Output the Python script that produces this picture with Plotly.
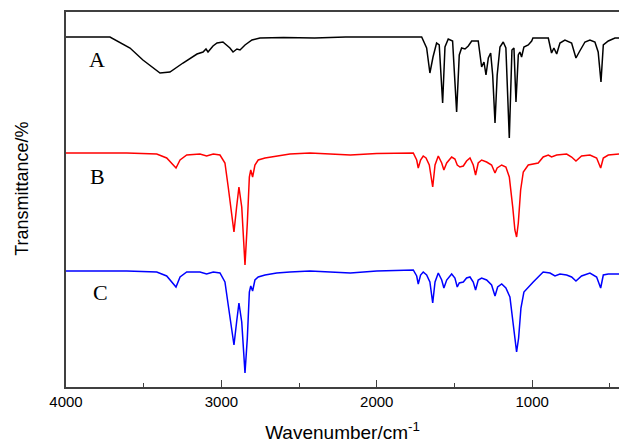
import plotly.graph_objects as go

# Wavenumber (cm^-1) and plotted transmittance (offset arbitrary units)
wn_A = [4000, 3717, 3588, 3505, 3395, 3331, 3247, 3157, 3118, 3099, 3086, 3054, 3028, 2990, 2945, 2925,
        2900, 2880, 2848, 2803, 2752, 2600, 2400, 2200, 2000, 1800, 1711, 1679, 1658, 1638, 1615, 1598,
        1576, 1561, 1540, 1512, 1486, 1469, 1454, 1432, 1411, 1389, 1347, 1325, 1310, 1297, 1282, 1267,
        1254, 1239, 1225, 1207, 1186, 1169, 1147, 1130, 1117, 1104, 1089, 1079, 1068, 1053, 1025, 1003,
        995, 896, 875, 860, 842, 821, 789, 746, 718, 697, 660, 628, 596, 575, 557, 542, 510, 467, 441]
T_A = [350, 350, 339, 327, 314, 315, 324, 333, 335, 338, 335, 341, 344, 345, 339, 335,
       338, 337, 342, 347, 349, 349.5, 349, 350, 350, 350, 350, 339, 314, 330, 344, 342,
       284, 340, 348, 346, 275, 332, 339, 338, 341, 346, 346, 320, 325, 312, 329, 334,
       312, 264, 312, 340, 345, 339, 249, 337, 339, 285, 332, 335, 330, 340, 342, 346,
       349, 349, 334, 339, 333, 344, 347, 344, 329, 335, 345, 347, 345, 335, 305, 342, 346, 349, 349]

wn_B = [4000, 3609, 3416, 3352, 3292, 3266, 3223, 3138, 3095, 3052, 3009, 2977, 2956, 2919, 2902, 2887,
        2869, 2848, 2833, 2820, 2811, 2799, 2784, 2763, 2719, 2644, 2559, 2430, 2170, 2000, 1765, 1743,
        1733, 1718, 1701, 1683, 1662, 1640, 1625, 1604, 1582, 1568, 1550, 1518, 1497, 1482, 1465, 1443,
        1422, 1400, 1379, 1364, 1347, 1325, 1293, 1261, 1239, 1225, 1196, 1169, 1147, 1125, 1111, 1100,
        1089, 1074, 1057, 1025, 993, 961, 929, 896, 875, 842, 778, 746, 718, 682, 628, 585, 559, 542, 510, 441]
T_B = [234, 234, 233, 229, 219, 227, 232, 233, 231, 233, 232, 224, 200, 155, 180, 200,
       180, 122, 164, 210, 217, 210, 222, 227, 229, 231, 233, 234, 232, 233.5, 234, 227,
       219, 227, 231, 229, 222, 200, 222, 231, 224, 217, 224, 230, 228, 222, 220, 221,
       226, 229, 222, 212, 224, 227, 225, 222, 214, 219, 222, 220, 210, 180, 157, 150,
       164, 197, 215, 222, 223, 224, 230, 232, 230, 232, 233, 230, 226, 231, 232, 229, 219, 229, 232, 233]

wn_C = [4000, 3609, 3416, 3352, 3292, 3266, 3223, 3138, 3095, 3052, 3009, 2977, 2956, 2919, 2902, 2887,
        2869, 2848, 2833, 2820, 2811, 2799, 2784, 2763, 2719, 2644, 2559, 2430, 2170, 2000, 1765, 1743,
        1733, 1718, 1701, 1679, 1658, 1640, 1625, 1604, 1582, 1568, 1550, 1518, 1497, 1482, 1469, 1443,
        1422, 1400, 1379, 1364, 1347, 1325, 1293, 1261, 1239, 1222, 1196, 1169, 1143, 1122, 1109, 1100,
        1087, 1072, 1053, 1025, 993, 961, 929, 885, 853, 821, 778, 746, 718, 682, 628, 585, 559, 542, 510, 441]
T_C = [116, 116, 115, 111, 100, 110, 115, 115, 113, 115, 114, 105, 82, 42, 65, 84,
       65, 14, 49, 95, 101, 96, 107, 110, 112, 114, 115, 116, 114, 116, 117, 111,
       103, 112, 115, 112, 105, 84, 105, 114, 107, 99, 107, 113, 109, 100, 104, 105,
       109, 110, 105, 97, 107, 109, 107, 102, 91, 100, 103, 99, 90, 62, 42, 35,
       49, 79, 95, 100, 105, 110, 115, 114, 111, 113, 112, 110, 106, 111, 114, 110, 99, 112, 113, 113]

labels = ["A", "B", "C"]
label_x = [3800, 3800, 3775]
label_y = [328, 211, 95]

fig = go.Figure()
for wn, T, col in [(wn_A, T_A, "black"), (wn_B, T_B, "red"), (wn_C, T_C, "blue")]:
    fig.add_trace(go.Scatter(x=wn, y=T, mode="lines", line=dict(color=col, width=1.5),
                             showlegend=False))

for t, lx, ly in zip(labels, label_x, label_y):
    fig.add_annotation(x=lx, y=ly, text=t, showarrow=False, xanchor="center", yanchor="middle",
                       font=dict(family="Liberation Serif, Times New Roman, serif", size=22, color="black"))

# y-axis title placed as a rotated annotation (sits slightly above the axis centre)
fig.add_annotation(xref="paper", yref="paper", x=-0.081, y=0.529, text="Transmittance/%",
                   textangle=-90, showarrow=False, xanchor="center", yanchor="middle",
                   font=dict(size=18, color="black"))

fig.update_layout(
    width=619, height=443,
    margin=dict(l=66, r=0, t=12, b=56),
    paper_bgcolor="white", plot_bgcolor="white",
    font=dict(family="Liberation Sans, Arial, sans-serif", color="black"),
)
fig.update_xaxes(
    range=[4000, 441], showgrid=False, zeroline=False,
    showline=True, linecolor="#404040", linewidth=1.5, mirror=True,
    ticks="inside", ticklen=7, tickwidth=1.2, tickcolor="#404040",
    tick0=0, dtick=1000, tickfont=dict(size=15),
    minor=dict(ticks="inside", ticklen=4, tickwidth=1.2, tickcolor="#404040", dtick=500, tick0=0, showgrid=False),
    title=dict(text="Wavenumber/cm<sup>-1</sup>", font=dict(size=19), standoff=18),
)
fig.update_yaxes(
    range=[0, 375], showgrid=False, zeroline=False,
    showline=True, linecolor="#404040", linewidth=1.5,
    showticklabels=False, ticks="",
)

fig.write_html("out.html")
